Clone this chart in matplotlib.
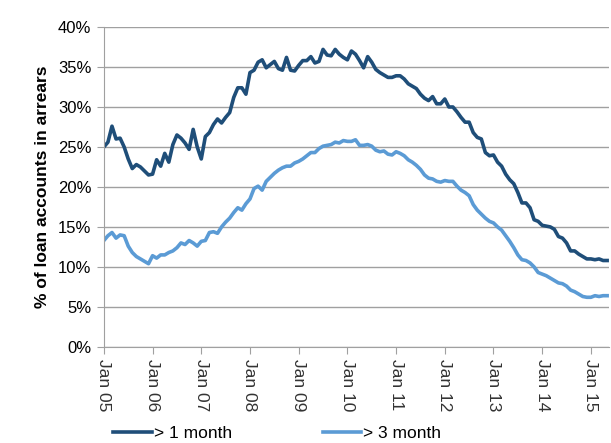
import numpy as np
import matplotlib
matplotlib.use("Agg")
from matplotlib import pyplot as plt
from matplotlib.ticker import FuncFormatter

# monthly, Jan 05 .. May 15
arrears_1m = [25.0, 25.6, 27.6, 26.0, 26.1, 25.0, 23.5, 22.3, 22.8, 22.5, 22.0, 21.5,
              21.6, 23.4, 22.6, 24.2, 23.1, 25.3, 26.5, 26.1, 25.5, 24.7, 27.2, 25.0,
              23.5, 26.3, 26.8, 27.8, 28.5, 28.0, 28.7, 29.3, 31.2, 32.4, 32.4, 31.6,
              34.3, 34.6, 35.6, 35.9, 34.9, 35.3, 35.7, 34.8, 34.6, 36.2, 34.6, 34.5,
              35.2, 35.8, 35.8, 36.3, 35.5, 35.7, 37.2, 36.5, 36.4, 37.2, 36.6, 36.2,
              35.9, 37.0, 36.6, 35.8, 34.9, 36.3, 35.6, 34.7, 34.3, 34.0, 33.7, 33.7,
              33.9, 33.9, 33.5, 32.9, 32.6, 32.3, 31.6, 31.1, 30.8, 31.3, 30.4, 30.4,
              31.0, 30.0, 30.0, 29.4, 28.7, 28.1, 28.1, 26.8, 26.2, 26.0, 24.3, 23.9,
              24.0, 23.1, 22.6, 21.6, 20.9, 20.4, 19.3, 18.0, 18.0, 17.4, 15.9, 15.7,
              15.2, 15.1, 15.0, 14.7, 13.8, 13.6, 13.0, 12.0, 12.0, 11.6, 11.3, 11.0,
              11.0, 10.9, 11.0, 10.8, 10.8]
arrears_3m = [13.3, 13.9, 14.3, 13.6, 14.0, 13.9, 12.6, 11.8, 11.3, 11.0, 10.7, 10.4,
              11.4, 11.1, 11.5, 11.5, 11.8, 12.0, 12.4, 13.0, 12.8, 13.3, 13.0, 12.6,
              13.2, 13.3, 14.3, 14.4, 14.2, 15.0, 15.6, 16.1, 16.8, 17.4, 17.1, 17.9,
              18.5, 19.8, 20.1, 19.6, 20.7, 21.2, 21.7, 22.1, 22.4, 22.6, 22.6, 23.0,
              23.2, 23.5, 23.9, 24.3, 24.3, 24.8, 25.1, 25.2, 25.3, 25.6, 25.5, 25.8,
              25.7, 25.7, 25.9, 25.2, 25.2, 25.3, 25.1, 24.6, 24.4, 24.5, 24.1, 24.0,
              24.4, 24.2, 23.9, 23.4, 23.1, 22.7, 22.2, 21.5, 21.1, 21.0, 20.7, 20.6,
              20.8, 20.7, 20.7, 20.1, 19.6, 19.3, 18.9, 17.8, 17.1, 16.6, 16.1, 15.7,
              15.5, 15.0, 14.6, 13.9, 13.2, 12.4, 11.5, 10.9, 10.8, 10.5, 10.0, 9.3,
              9.1, 8.9, 8.6, 8.3, 8.0, 7.9, 7.6, 7.1, 6.9, 6.6, 6.3, 6.2,
              6.2, 6.4, 6.3, 6.4, 6.4]
year_labels = ["Jan 05", "Jan 06", "Jan 07", "Jan 08", "Jan 09", "Jan 10",
               "Jan 11", "Jan 12", "Jan 13", "Jan 14", "Jan 15"]

plt.rcParams['font.family'] = ['Liberation Sans', 'DejaVu Sans']

fig = plt.figure(figsize=(6.11, 4.43), dpi=100)
ax = fig.add_axes([0.170, 0.217, 0.827, 0.722])

months = np.arange(len(arrears_1m))
l1, = ax.plot(months, arrears_1m, color="#1f4e79", lw=2.6, solid_joinstyle="round")
l2, = ax.plot(months, arrears_3m, color="#5b9bd5", lw=2.6, solid_joinstyle="round")

ax.set_xlim(0, len(months) - 0.5)
ax.set_ylim(0, 40)
ax.set_yticks(np.arange(0, 41, 5))
ax.yaxis.set_major_formatter(FuncFormatter(lambda v, p: "%d%%" % v))
ax.set_xticks(np.arange(0, len(months), 12))
ax.set_xticklabels(year_labels, rotation=270, fontsize=12.5, color="#333333")
ax.tick_params(axis="y", labelsize=12, length=5, color="#a0a0a0", pad=4)
ax.tick_params(axis="x", length=5, color="#a0a0a0", pad=4)

ax.grid(axis="y", color="#a0a0a0", lw=1)
ax.set_axisbelow(True)
for s in ["top", "right"]:
    ax.spines[s].set_visible(False)
ax.spines["left"].set_color("#a0a0a0")
ax.spines["bottom"].set_color("#a0a0a0")

ax.set_ylabel("% of loan accounts in arrears", fontsize=12.5, fontweight="bold", labelpad=6)

fig.legend([l1, l2], ["> 1 month", "> 3 month"], loc="lower left",
           bbox_to_anchor=(0.16, -0.03), ncol=2, frameon=False, fontsize=12.5,
           handlelength=2.2, handletextpad=0.15, columnspacing=5.2)

fig.savefig("out.png", dpi=100)
